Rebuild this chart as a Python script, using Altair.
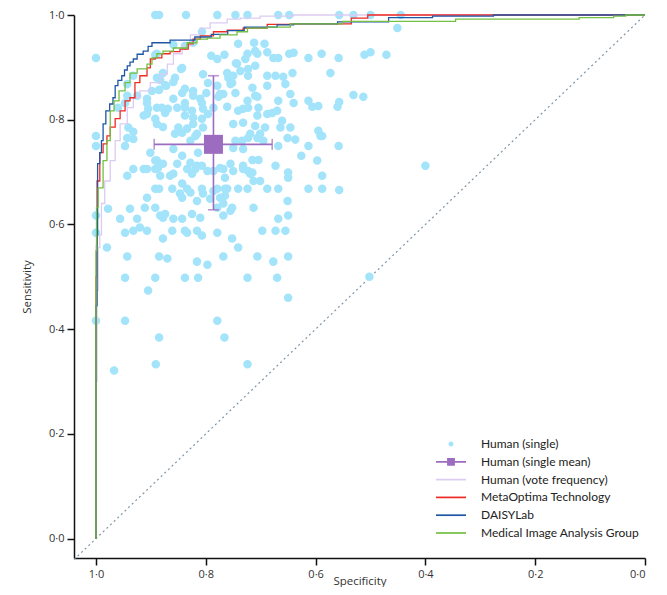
import altair as alt
import pandas as pd

SERIES = ["Human (single)", "Human (single mean)", "Human (vote frequency)",
          "MetaOptima Technology", "DAISYLab", "Medical Image Analysis Group"]
COLORS = ["#a3e4fb", "#9b6cc0", "#dccbf2", "#ee2b25", "#1f56a5", "#73c043"]

X_TICKS = [1.0, 0.8, 0.6, 0.4, 0.2, 0.0]
Y_TICKS = [0.0, 0.2, 0.4, 0.6, 0.8, 1.0]

# (specificity, sensitivity) of single human readers
HUMAN_POINTS = [
    (0.892, 1.0), (0.885, 1.0), (0.836, 1.0), (0.779, 1.0), (0.746, 1.0), (0.724, 1.0),
    (0.668, 1.0), (0.648, 1.0), (0.557, 1.0), (0.531, 1.0), (0.5, 1.0), (0.445, 1.0),
    (0.451, 0.975), (0.807, 0.968),
    (0.859, 0.943), (0.838, 0.941), (0.823, 0.947), (0.741, 0.945), (0.712, 0.947),
    (0.693, 0.945), (0.71, 0.931), (0.688, 0.929),
    (1.0, 0.918), (0.892, 0.924), (0.889, 0.926), (0.79, 0.922), (0.779, 0.916),
    (0.766, 0.924), (0.724, 0.926), (0.706, 0.926), (0.745, 0.908), (0.728, 0.916),
    (0.677, 0.918), (0.668, 0.918), (0.648, 0.926), (0.64, 0.928), (0.613, 0.918),
    (0.589, 0.926), (0.558, 0.918), (0.511, 0.924), (0.5, 0.929), (0.471, 0.924),
    (0.883, 0.876), (0.845, 0.897), (0.805, 0.887), (0.796, 0.87), (0.761, 0.889),
    (0.75, 0.884), (0.737, 0.893), (0.723, 0.897), (0.743, 0.907), (0.71, 0.903),
    (0.723, 0.884), (0.688, 0.884), (0.673, 0.884), (0.659, 0.882), (0.642, 0.889),
    (0.655, 0.868), (0.573, 0.889), (0.759, 0.88),
    (0.843, 0.899), (0.878, 0.889), (0.889, 0.88), (0.874, 0.866), (0.932, 0.884),
    (0.943, 0.868), (0.943, 0.846), (0.925, 0.846), (0.947, 0.832), (0.96, 0.823),
    (0.907, 0.832), (0.898, 0.855), (0.856, 0.88), (0.874, 0.813), (0.913, 0.808),
    (0.889, 0.792), (0.838, 0.859), (0.823, 0.855), (0.838, 0.832), (0.807, 0.832),
    (0.907, 0.84), (0.885, 0.857), (0.872, 0.865), (0.859, 0.872), (0.843, 0.851),
    (0.859, 0.84), (0.823, 0.846), (0.81, 0.84), (0.799, 0.851), (0.774, 0.849),
    (0.755, 0.868), (0.746, 0.851), (0.724, 0.836), (0.71, 0.846), (0.688, 0.865),
    (0.715, 0.861), (0.668, 0.836), (0.646, 0.849), (0.613, 0.836), (0.531, 0.847),
    (0.513, 0.844), (0.557, 0.834), (0.779, 0.865), (0.752, 0.87), (0.768, 0.849),
    (0.777, 0.844), (0.706, 0.844), (0.64, 0.832), (0.595, 0.826),
    (0.56, 0.825), (0.905, 0.821), (0.889, 0.823), (0.88, 0.823), (0.869, 0.821),
    (0.852, 0.823), (0.838, 0.823), (0.825, 0.817), (0.805, 0.821), (0.786, 0.823),
    (0.761, 0.825), (0.741, 0.817), (0.723, 0.823), (0.704, 0.823), (0.688, 0.811),
    (0.67, 0.817), (0.606, 0.825), (0.679, 0.813), (0.661, 0.798), (0.732, 0.821),
    (0.907, 0.811), (0.892, 0.802), (0.838, 0.808), (0.823, 0.804), (0.807, 0.802),
    (0.796, 0.811), (0.75, 0.792), (0.732, 0.794), (0.706, 0.808), (0.692, 0.785),
    (0.595, 0.779), (0.588, 0.769), (0.71, 0.788), (0.664, 0.785), (0.646, 0.785),
    (0.719, 0.773), (0.701, 0.773),
    (0.943, 0.765), (0.941, 0.785), (0.932, 0.763), (0.947, 0.75), (1.0, 0.769),
    (1.0, 0.75), (0.878, 0.786), (0.85, 0.785), (0.843, 0.775), (0.834, 0.783),
    (0.823, 0.792), (0.805, 0.785), (0.816, 0.773), (0.856, 0.773), (0.819, 0.769),
    (0.932, 0.777), (0.901, 0.737), (0.889, 0.722), (0.859, 0.744), (0.843, 0.731),
    (0.828, 0.76), (0.814, 0.737), (0.75, 0.746), (0.734, 0.76), (0.723, 0.765),
    (0.706, 0.765), (0.695, 0.76), (0.746, 0.76), (0.668, 0.75), (0.651, 0.765),
    (0.637, 0.762), (0.613, 0.75), (0.591, 0.769), (0.558, 0.75), (0.732, 0.744),
    (0.626, 0.731), (0.597, 0.722), (0.715, 0.723), (0.704, 0.723), (0.673, 0.712),
    (0.932, 0.706), (0.943, 0.693), (0.913, 0.706), (0.892, 0.706), (0.883, 0.693),
    (0.865, 0.693), (0.852, 0.716), (0.834, 0.706), (0.816, 0.712), (0.797, 0.702),
    (0.774, 0.708), (0.755, 0.716), (0.75, 0.702), (0.732, 0.706), (0.715, 0.699),
    (0.701, 0.683), (0.65, 0.699), (0.65, 0.689), (0.588, 0.693), (0.892, 0.722),
    (0.878, 0.716), (0.887, 0.708), (0.907, 0.706), (0.859, 0.697), (0.828, 0.718),
    (0.819, 0.706), (0.825, 0.697), (0.807, 0.712), (0.768, 0.706), (0.723, 0.702),
    (0.719, 0.697), (0.786, 0.702), (0.765, 0.689), (0.713, 0.683), (0.4, 0.712),
    (0.732, 0.712),
    (0.892, 0.668), (0.885, 0.668), (0.861, 0.668), (0.843, 0.678), (0.828, 0.661),
    (0.807, 0.668), (0.786, 0.664), (0.761, 0.668), (0.741, 0.668), (0.724, 0.668),
    (0.688, 0.668), (0.668, 0.668), (0.613, 0.668), (0.588, 0.668), (0.557, 0.666),
    (0.779, 0.668), (0.765, 0.668), (0.834, 0.668), (0.805, 0.659), (0.847, 0.659),
    (0.907, 0.651), (0.843, 0.651), (0.816, 0.645), (0.792, 0.649), (0.774, 0.651),
    (0.768, 0.64), (0.651, 0.645), (0.765, 0.655), (0.978, 0.63), (0.938, 0.63),
    (0.925, 0.611), (0.911, 0.632), (0.892, 0.632), (0.878, 0.613), (0.859, 0.611),
    (0.843, 0.611), (0.825, 0.62), (0.81, 0.613), (0.779, 0.632), (0.755, 0.626),
    (0.752, 0.632), (0.713, 0.632), (0.668, 0.611), (0.65, 0.617), (1.0, 0.617),
    (0.956, 0.611), (0.874, 0.62), (0.883, 0.617), (0.768, 0.617),
    (1.0, 0.584), (0.947, 0.584), (0.932, 0.588), (0.92, 0.594), (0.907, 0.588),
    (0.878, 0.573), (0.861, 0.588), (0.838, 0.588), (0.834, 0.584), (0.816, 0.588),
    (0.807, 0.579), (0.779, 0.584), (0.752, 0.573), (0.741, 0.556), (0.697, 0.588),
    (0.673, 0.588), (0.655, 0.588),
    (0.98, 0.556), (0.943, 0.539), (0.885, 0.539), (0.87, 0.535), (0.816, 0.529),
    (0.797, 0.523), (0.768, 0.539), (0.706, 0.539), (0.677, 0.529), (0.65, 0.539),
    (0.947, 0.498), (0.892, 0.498), (0.838, 0.498), (0.814, 0.498), (0.724, 0.498),
    (0.67, 0.498), (0.502, 0.5),
    (0.905, 0.474), (0.65, 0.46), (1.0, 0.416), (0.947, 0.416), (0.779, 0.416),
    (0.885, 0.384), (0.766, 0.384), (0.891, 0.333), (0.724, 0.333), (0.967, 0.321),
]

# ROC curves, (specificity, sensitivity) corners of each step
VOTE_CURVE = [
    (1.0, 0.0), (0.998, 0.3), (0.996, 0.474), (0.993, 0.556), (0.99, 0.58), (0.984, 0.64),
    (0.974, 0.683), (0.965, 0.722), (0.956, 0.76), (0.943, 0.792), (0.932, 0.823),
    (0.92, 0.842), (0.901, 0.855), (0.883, 0.871), (0.87, 0.887), (0.859, 0.906),
    (0.843, 0.926), (0.828, 0.941), (0.81, 0.962), (0.792, 0.975), (0.761, 0.985),
    (0.737, 0.992), (0.701, 0.994), (0.64, 0.998), (0.0, 1.0),
]
META_CURVE = [
    (1.0, 0.0), (0.999, 0.5), (0.998, 0.56), (0.993, 0.683), (0.987, 0.737), (0.98, 0.754),
    (0.974, 0.769), (0.965, 0.786), (0.956, 0.802), (0.947, 0.817), (0.938, 0.836),
    (0.929, 0.842), (0.92, 0.871), (0.907, 0.884), (0.901, 0.899), (0.892, 0.916),
    (0.88, 0.918), (0.865, 0.926), (0.847, 0.93), (0.832, 0.935), (0.823, 0.945),
    (0.81, 0.954), (0.786, 0.96), (0.761, 0.968), (0.732, 0.971), (0.688, 0.975),
    (0.646, 0.982), (0.535, 0.983), (0.505, 0.994), (0.0, 1.0),
]
DAISY_CURVE = [
    (1.0, 0.0), (0.998, 0.445), (0.997, 0.58), (0.993, 0.716), (0.99, 0.737), (0.987, 0.76),
    (0.982, 0.792), (0.975, 0.817), (0.969, 0.83), (0.965, 0.842), (0.96, 0.865),
    (0.953, 0.875), (0.948, 0.884), (0.943, 0.895), (0.938, 0.903), (0.932, 0.91),
    (0.925, 0.916), (0.914, 0.925), (0.905, 0.931), (0.898, 0.94), (0.865, 0.947),
    (0.82, 0.952), (0.79, 0.958), (0.76, 0.963), (0.73, 0.97), (0.67, 0.977),
    (0.64, 0.981), (0.56, 0.983), (0.467, 0.987), (0.387, 0.995), (0.276, 0.998),
    (0.0, 1.0),
]
MIAG_CURVE = [
    (1.0, 0.0), (0.999, 0.55), (0.996, 0.632), (0.987, 0.67), (0.98, 0.722), (0.974, 0.76),
    (0.967, 0.817), (0.958, 0.836), (0.947, 0.855), (0.938, 0.871), (0.925, 0.889),
    (0.907, 0.897), (0.898, 0.906), (0.889, 0.918), (0.878, 0.926), (0.859, 0.931),
    (0.834, 0.937), (0.816, 0.947), (0.797, 0.954), (0.774, 0.956), (0.743, 0.962),
    (0.724, 0.968), (0.688, 0.975), (0.646, 0.977), (0.551, 0.983), (0.345, 0.988),
    (0.12, 0.992), (0.057, 0.995), (0.035, 0.998), (0.0, 1.0),
]

MEAN_SPEC = 0.786
MEAN_SENS = 0.753
SPEC_CI = [0.679, 0.894]
SENS_CI = [0.628, 0.884]

DIAG_SPEC = [1.04, 0.0]
DIAG_SENS = [-0.04, 1.0]

FONT = "Open Sans"
LEGEND_FONT = "Lato"
PURPLE = COLORS[1]

# legend / point glyphs (unit-square paths, scaled by the symbol size)
DOT = "M-0.5,0A0.5,0.5 0 1,0 0.5,0A0.5,0.5 0 1,0 -0.5,0Z"
BAR = "M-3,-0.17H3V0.17H-3Z"
MEAN_GLYPH = "M-3,-0.17H3V0.17H-3Z M-0.78,-0.78H0.78V0.78H-0.78Z"
SHAPES = [DOT, MEAN_GLYPH, BAR, BAR, BAR, BAR]

# ---------- data frames ----------
pts = pd.DataFrame(HUMAN_POINTS, columns=["spec", "sens"])
pts["series"] = SERIES[0]

rows = []
for name, curve in [(SERIES[2], VOTE_CURVE), (SERIES[3], META_CURVE),
                    (SERIES[4], DAISY_CURVE), (SERIES[5], MIAG_CURVE)]:
    for i, (s, t) in enumerate(curve):
        rows.append({"series": name, "idx": i, "spec": s, "sens": t})
curves = pd.DataFrame(rows)

mean_df = pd.DataFrame([{"spec": MEAN_SPEC, "sens": MEAN_SENS,
                         "spec_lo": SPEC_CI[0], "spec_hi": SPEC_CI[1],
                         "sens_lo": SENS_CI[0], "sens_hi": SENS_CI[1]}])
caps_h = pd.DataFrame({"spec": SPEC_CI, "sens": [MEAN_SENS] * 2})
caps_v = pd.DataFrame({"spec": [MEAN_SPEC] * 2, "sens": SENS_CI})
diag = pd.DataFrame({"spec": DIAG_SPEC, "sens": DIAG_SENS})

# ---------- scales & axes ----------
xscale = alt.Scale(domain=[0.0, 1.04], reverse=True, nice=False, zero=False)
yscale = alt.Scale(domain=[-0.037, 1.0], nice=False, zero=False)
label_expr = "replace(format(datum.value, '.1f'), '.', '\u00b7')"
xaxis = alt.Axis(values=X_TICKS, labelExpr=label_expr, grid=False, title="Specificity",
                 titleY=26, titleBaseline="alphabetic")
yaxis = alt.Axis(values=Y_TICKS, labelExpr=label_expr, grid=False, title="Sensitivity")


def X(field):
    return alt.X(field, type="quantitative", scale=xscale, axis=xaxis)


def Y(field):
    return alt.Y(field, type="quantitative", scale=yscale, axis=yaxis)


color_scale = alt.Scale(domain=SERIES, range=COLORS)
shape_scale = alt.Scale(domain=SERIES, range=SHAPES)

legend = alt.Legend(
    title=None, orient="none", legendX=371, legendY=423, padding=0,
    symbolSize=100, symbolStrokeWidth=0, symbolOpacity=1,
    labelFont=LEGEND_FONT, labelFontSize=12, labelColor="#222", labelLimit=300,
    labelOffset=24, rowPadding=5.8,
)

diag_layer = alt.Chart(diag).mark_line(
    color="#7f95a8", strokeDash=[2, 3], strokeWidth=1.2
).encode(x=X("spec"), y=Y("sens"))

pts_layer = alt.Chart(pts).mark_point(filled=True, size=290, opacity=1, strokeWidth=0).encode(
    x=X("spec"), y=Y("sens"),
    color=alt.Color("series:N", scale=color_scale, legend=legend),
    shape=alt.Shape("series:N", scale=shape_scale, legend=legend),
)

curve_layer = alt.Chart(curves).mark_line(interpolate="step-before", strokeWidth=1.3).encode(
    x=X("spec"), y=Y("sens"),
    color=alt.Color("series:N", scale=color_scale, legend=None),
    order=alt.Order("idx:Q"),
)

hbar = alt.Chart(mean_df).mark_rule(color=PURPLE, strokeWidth=1.6).encode(
    x=X("spec_lo"), x2="spec_hi", y=Y("sens"))
vbar = alt.Chart(mean_df).mark_rule(color=PURPLE, strokeWidth=1.6).encode(
    x=X("spec"), y=Y("sens_lo"), y2="sens_hi")
hcaps = alt.Chart(caps_h).mark_tick(color=PURPLE, orient="vertical", size=11, thickness=1.6).encode(
    x=X("spec"), y=Y("sens"))
vcaps = alt.Chart(caps_v).mark_tick(color=PURPLE, orient="horizontal", size=11, thickness=1.6).encode(
    x=X("spec"), y=Y("sens"))
square = alt.Chart(mean_df).mark_square(color=PURPLE, size=361, opacity=1).encode(
    x=X("spec"), y=Y("sens"))

chart = alt.layer(
    diag_layer, pts_layer, curve_layer, hbar, vbar, hcaps, vcaps, square
).properties(
    width=571, height=543,
    autosize=alt.AutoSizeParams(type="none"),
    padding={"left": 66, "top": 7, "right": 14, "bottom": 29},
).configure_view(strokeWidth=0).configure_axis(
    labelFont=FONT, titleFont=FONT, labelFontSize=11, titleFontSize=11.5,
    titleFontWeight="normal", labelColor="#333", titleColor="#333",
    domainColor="#111", tickColor="#111", domainWidth=1.5, tickWidth=1.5, tickSize=7,
    labelPadding=3,
).configure_axisY(titlePadding=16)

chart.save("out.html", embed_options={"renderer": "svg", "actions": False})
